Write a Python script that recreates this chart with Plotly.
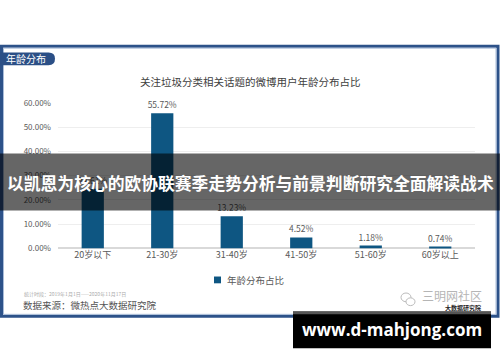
import plotly.graph_objects as go

categories = ["20岁以下", "21-30岁", "31-40岁", "41-50岁", "51-60岁", "60岁以上"]
values = [24.61, 55.72, 13.23, 4.52, 1.18, 0.74]
tick_vals = [0, 10, 20, 30, 40, 50, 60]
tick_text = ["0.00%", "10.00%", "20.00%", "30.00%", "40.00%", "50.00%", "60.00%"]
series_name = "年龄分布占比"
chart_title = "关注垃圾分类相关话题的微博用户年龄分布占比"
tab_label = "年龄分布"
period_note = "统计时段：2019年1月1日——2020年11月17日"
source_note = "数据来源：微热点大数据研究院"
banner_text = "以凯恩为核心的欧协联赛季走势分析与前景判断研究全面解读战术"
site_text = "www.d-mahjong.com"

W, H = 500, 362
FONT = "Noto Sans CJK SC"
BAR_COLOR = "#0e5682"


def px(x):
    return x / W


def py(y):
    return 1 - y / H


fig = go.Figure()
fig.add_trace(go.Bar(
    x=categories, y=values, name=series_name, showlegend=False,
    marker=dict(color=BAR_COLOR, line=dict(width=0)),
    width=0.32,
    text=[f"{v:.2f}%" for v in values], textposition="outside",
    constraintext="none",
    textfont=dict(size=8.5, color="#595959", family=FONT),
    cliponaxis=False,
))

fig.update_layout(
    width=W, height=H, margin=dict(l=0, r=0, t=0, b=0),
    paper_bgcolor="white", plot_bgcolor="white",
    font=dict(family=FONT, color="#595959"),
    showlegend=False,
    xaxis=dict(domain=[px(58), px(475)], showgrid=False, showline=False,
               tickfont=dict(size=9, color="#595959"), ticks=""),
    yaxis=dict(domain=[py(250), py(100)], range=[0, 60], tickvals=tick_vals, ticktext=tick_text,
               showgrid=True, gridcolor="#eeeeee", gridwidth=1, zeroline=True,
               zerolinecolor="#d9d9d9", tickfont=dict(size=8, color="#595959"), ticks="",
               ticklabelstandoff=6),
    bargap=0.68,
)

shapes = []
# outer frame
shapes.append(dict(type="rect", xref="paper", yref="paper", x0=px(1.5), x1=px(498), y0=py(320), y1=py(41.5),
                   line=dict(color="#2d5289", width=3), fillcolor="rgba(0,0,0,0)", layer="above"))
shapes.append(dict(type="rect", xref="paper", yref="paper", x0=px(3.5), x1=px(496), y0=py(318), y1=py(43.5),
                   line=dict(color="#a9bcd8", width=1), fillcolor="rgba(0,0,0,0)", layer="above"))
# tab pill
x0t, x1t, y0t, y1t = 0, 55, 48, 61
r = (y1t - y0t) / 2
path = (f"M {px(x0t)},{py(y0t)} L {px(x1t - r)},{py(y0t)} "
        f"Q {px(x1t)},{py(y0t)} {px(x1t)},{py((y0t + y1t) / 2)} "
        f"Q {px(x1t)},{py(y1t)} {px(x1t - r)},{py(y1t)} L {px(x0t)},{py(y1t)} Z")
shapes.append(dict(type="path", xref="paper", yref="paper", path=path,
                   fillcolor="#2b4f86", line=dict(width=0), layer="above"))
# legend swatch
shapes.append(dict(type="rect", xref="paper", yref="paper", x0=px(214), x1=px(221), y0=py(286), y1=py(279),
                   fillcolor=BAR_COLOR, line=dict(width=0)))
# banner overlay
shapes.append(dict(type="rect", xref="paper", yref="paper", x0=0, x1=1, y0=py(211), y1=py(152),
                   fillcolor="rgba(0,0,0,0.6)", line=dict(width=0), layer="above"))
# site box
shapes.append(dict(type="rect", xref="paper", yref="paper", x0=px(293), x1=px(491), y0=py(353), y1=py(315),
                   fillcolor="#000000", line=dict(width=0), layer="above"))
shapes.append(dict(type="rect", xref="paper", yref="paper", x0=px(293), x1=px(491), y0=py(318), y1=py(315),
                   fillcolor="#555555", line=dict(width=0), layer="above"))
# wechat icon bubbles
shapes.append(dict(type="circle", xref="paper", yref="paper", x0=px(401), x1=px(411), y0=py(305), y1=py(296),
                   line=dict(color="#bbbbbb", width=1), layer="above"))
shapes.append(dict(type="circle", xref="paper", yref="paper", x0=px(406), x1=px(415), y0=py(309), y1=py(301),
                   line=dict(color="#bbbbbb", width=1), fillcolor="white", layer="above"))
fig.update_layout(shapes=shapes)

ann = []
ann.append(dict(text=series_name, x=px(225), y=py(282.5), xref="paper", yref="paper", xanchor="left",
                yanchor="middle", showarrow=False, font=dict(size=9.5, color="#595959", family=FONT)))
ann.append(dict(text=tab_label, x=px(4), y=py(54.5), xref="paper", yref="paper", xanchor="left", yanchor="middle",
                showarrow=False, font=dict(size=10, color="white", family=FONT)))
ann.append(dict(text=chart_title, x=px(250), y=py(78), xref="paper", yref="paper", xanchor="center",
                yanchor="middle", showarrow=False, font=dict(size=10.5, color="#404040", family=FONT)))
ann.append(dict(text=period_note, x=px(22), y=py(297), xref="paper", yref="paper", xanchor="left",
                yanchor="middle", showarrow=False, font=dict(size=5, color="#aaaaaa", family=FONT)))
ann.append(dict(text=source_note, x=px(21), y=py(308.5), xref="paper", yref="paper", xanchor="left",
                yanchor="middle", showarrow=False, font=dict(size=9.5, color="#555555", family=FONT)))
ann.append(dict(text="三明网社区", x=px(484), y=py(299), xref="paper", yref="paper", xanchor="right",
                yanchor="middle", showarrow=False, font=dict(size=12, color="#b5b5b5", family=FONT)))
ann.append(dict(text="<b>大数据研究院</b>", x=px(483), y=py(311), xref="paper", yref="paper", xanchor="right",
                yanchor="middle", showarrow=False, font=dict(size=6, color="#222222", family=FONT)))
ann.append(dict(text=f"<b>{banner_text}</b>", x=px(250), y=py(183), xref="paper", yref="paper",
                xanchor="center", yanchor="middle", showarrow=False,
                font=dict(size=16.8, color="white", family=FONT)))
ann.append(dict(text=f"<b>{site_text}</b>", x=px(392), y=py(334), xref="paper", yref="paper",
                xanchor="center", yanchor="middle", showarrow=False,
                font=dict(size=17, color="white", family="Open Sans")))
fig.update_layout(annotations=ann)

fig.write_html("out.html")
